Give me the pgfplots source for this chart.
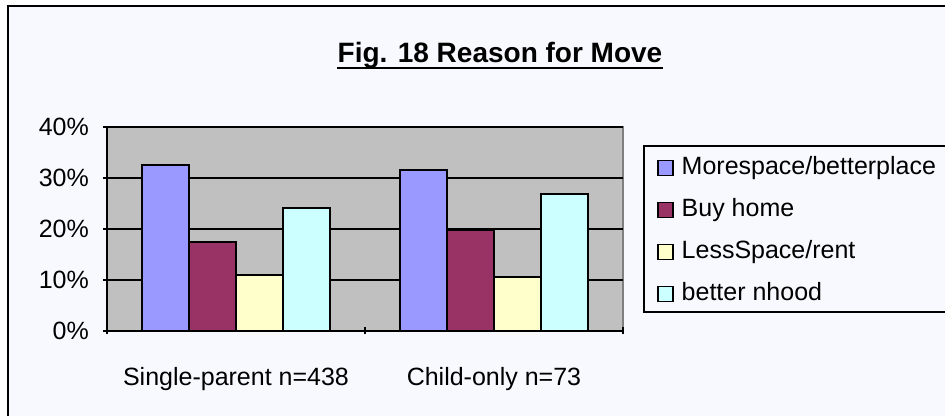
\documentclass[border=0pt]{standalone}
\usepackage{fontspec}
\setmainfont{Liberation Sans}
\usepackage{pgfplots}
\pgfplotsset{compat=1.18}
\definecolor{pagebg}{HTML}{F8F8FF}
\definecolor{plotgray}{HTML}{C0C0C0}
\definecolor{framegray}{HTML}{808080}
\definecolor{cMore}{HTML}{9999FF}
\definecolor{cBuy}{HTML}{993366}
\definecolor{cLess}{HTML}{FFFFCC}
\definecolor{cHood}{HTML}{CCFFFF}
\newcommand\lbl{\fontsize{25pt}{29pt}\selectfont}
\begin{document}
\begin{tikzpicture}[x=1pt,y=1pt]
% canvas 945 x 415, image y measured from the top -> tikz y = 415 - y
\fill[white] (0,0) rectangle (945,415);
\begin{scope}
\clip (0,0) rectangle (945,415);
\fill[pagebg] (8,-20) rectangle (980,409);
\draw[line width=2.5pt] (8,-20) -- (8,409) -- (980,409);
\filldraw[fill=pagebg, draw=black, line width=2pt] (644,269) rectangle (980,103);
\end{scope}
% title
\node[font=\fontsize{28pt}{32pt}\selectfont\bfseries, anchor=base, inner sep=0pt] (title) at (500,352) {Fig. 18 Reason for Move};
\draw[line width=2.5pt] ([yshift=-5pt]title.base west) -- ([yshift=-5pt]title.base east);
\begin{axis}[
    at={(107pt,84pt)}, anchor=south west,
    scale only axis,
    width=516pt, height=204pt,
    ybar=0pt, bar width=47pt,
    xmin=-0.5, xmax=1.5,
    ymin=0, ymax=40,
    xtick={0,1},
    xticklabels={Single-parent n=438, Child-only n=73},
    minor xtick={-0.5,0.5,1.5},
    major x tick style={draw=none},
    minor tick length=7pt,
    ytick={0,10,20,30,40},
    yticklabel={\pgfmathprintnumber{\tick}\%},
    /pgf/number format/assume math mode=true,
    tick align=outside,
    major tick length=8pt,
    axis x line=bottom, axis y line=left,
    axis line style={-, black, line width=2pt},
    tick style={black, line width=2pt},
    ymajorgrids, grid style={black, line width=1.5pt},
    axis background/.style={fill=plotgray, draw=framegray, line width=2pt},
    tick label style={font=\lbl},
    yticklabel style={inner sep=0pt, xshift=-14pt},
    xticklabel style={anchor=base, inner sep=0pt, yshift=-50pt},
    legend style={at={(1.0659,0.853)}, anchor=north west, draw=none, fill=none,
        inner sep=0pt, row sep=20pt, font=\lbl, cells={anchor=west},
        nodes={inner sep=0pt, text height=17pt, text depth=5pt},
        /tikz/every odd column/.append style={column sep=8pt}},
    legend image code/.code={\draw[#1, line width=1.5pt] (0pt,-7.5pt) rectangle (15pt,7.5pt);},
]
\addplot[fill=cMore, draw=black, line width=2pt] coordinates {(0,32.5) (1,31.6)};
\addplot[fill=cBuy,  draw=black, line width=2pt] coordinates {(0,17.5) (1,19.8)};
\addplot[fill=cLess, draw=black, line width=2pt] coordinates {(0,10.9) (1,10.5)};
\addplot[fill=cHood, draw=black, line width=2pt] coordinates {(0,24.2) (1,26.9)};
\legend{Morespace/betterplace, Buy home, LessSpace/rent, better nhood}
\end{axis}
\pgfresetboundingbox
\useasboundingbox (0,0) rectangle (945,415);
\end{tikzpicture}
\end{document}
